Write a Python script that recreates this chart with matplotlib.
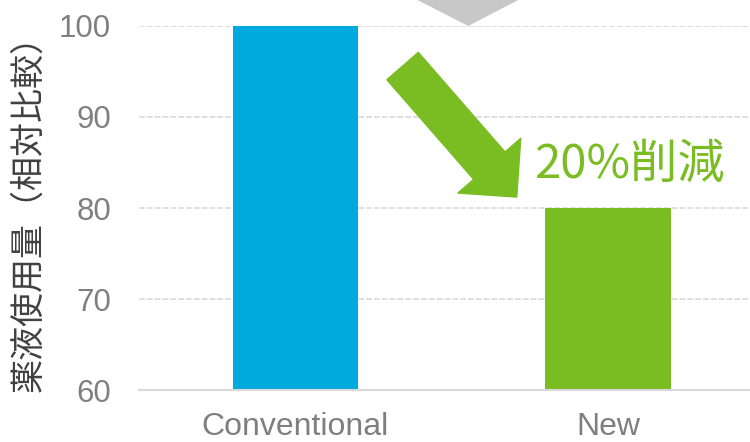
import matplotlib
matplotlib.use("Agg")
import matplotlib.pyplot as plt
from matplotlib.patches import Polygon

# データ
categories = ["Conventional", "New"]
values = [100, 80]
bar_colors = ["#00a9de", "#7abd22"]
yticks = [60, 70, 80, 90, 100]
ylabel = "薬液使用量（相対比較）"
note = "20%削減"

plt.rcParams["font.family"] = ["Liberation Sans", "Noto Sans CJK JP", "DejaVu Sans"]

fig = plt.figure(figsize=(7.5, 4.42), dpi=100)
ax = fig.add_axes([0.1853, 0.1176, 0.8147, 0.8236])

x = list(range(len(categories)))
ax.bar(x, values, width=0.4, color=bar_colors, zorder=3)

ax.set_xlim(-0.5, 1.454)
ax.set_ylim(60, 100)
ax.set_yticks(yticks)
ax.set_xticks(x)
ax.set_xticklabels(categories)

# 軸・グリッド
for side in ["top", "right", "left"]:
    ax.spines[side].set_visible(False)
ax.spines["bottom"].set_color("#d9d9d9")
ax.spines["bottom"].set_linewidth(1.5)
ax.spines["bottom"].set_zorder(4)
ax.grid(axis="y", color="#d9d9d9", linestyle=(0, (3.5, 1.2)), linewidth=1.2, zorder=0)
ax.tick_params(axis="y", length=0, pad=20, labelsize=22.5, labelcolor="#7f7f7f")
ax.tick_params(axis="x", length=0, pad=16, labelsize=23, labelcolor="#7f7f7f")

ax.set_ylabel(ylabel, fontsize=24.5, color="#404040",
              family=["Noto Sans CJK JP", "DejaVu Sans"])
ax.yaxis.set_label_coords(-0.152, 0.507)

# 上部のグレーの矢印（先端だけ見えている）
tri = Polygon([(0.325, 104), (0.777, 104), (0.553, 100)], closed=True,
              facecolor="#c8c8c8", edgecolor="none", clip_on=False, zorder=2)
ax.add_patch(tri)

# 削減を示す緑の矢印
ax.annotate("", xy=(0.708, values[1] + 1.2), xytext=(0.343, values[0] - 4.4),
            arrowprops=dict(arrowstyle="simple,head_length=30,head_width=60,tail_width=30",
                            mutation_scale=1, color="#7abd22", shrinkA=0, shrinkB=0),
            zorder=5)

ax.text(0.763, 83.3, note, color="#7abd22", fontsize=34, ha="left", va="baseline",
        family=["Noto Sans CJK JP", "DejaVu Sans"], zorder=5)

fig.savefig("out.png", dpi=100)
